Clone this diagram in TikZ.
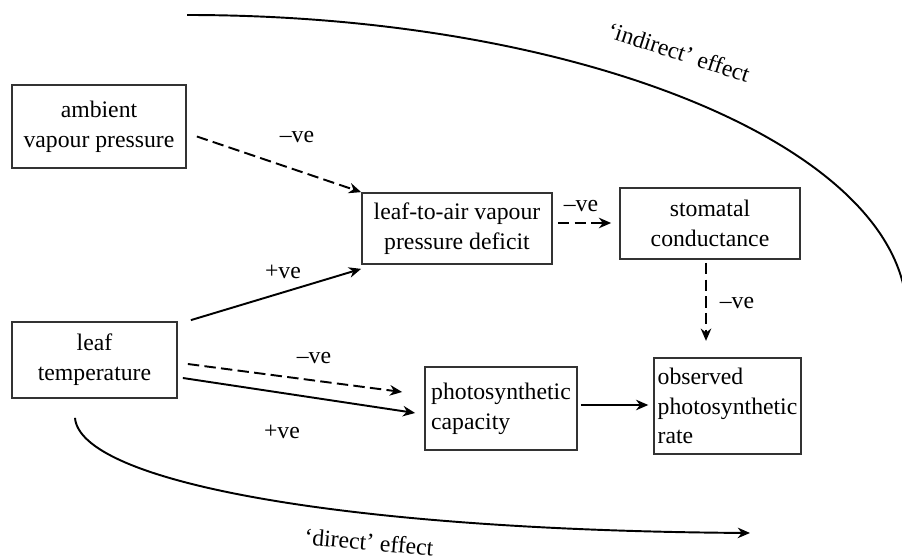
\documentclass[tikz,border=0pt]{standalone}
\usepackage{fontspec}
\setmainfont{Liberation Serif}
\usetikzlibrary{calc,arrows.meta}

\tikzset{
    box/.style={draw=black!80, line width=1pt, inner sep=2pt, font=\fontsize{13.5}{17}\selectfont},
    lbl/.style={inner sep=0pt, font=\fontsize{13.5}{17}\selectfont},
    effarrow/.style={->},
    negarrow/.style={->, dash pattern=on 6.5pt off 3pt},
}

\begin{document}
\begin{tikzpicture}[x=0.02cm, y=-0.02cm, line width=1.1pt, >={Stealth[length=7pt,width=6pt]}]
    \useasboundingbox (0,0) rectangle (902,560);
    \clip (0,0) rectangle (902,560);
    % boxes
    \node[box, minimum width=3.48cm, minimum height=1.66cm, align=center] (amb) at (99,126.5) {ambient\\vapour pressure};
    \node[box, minimum width=3.3cm, minimum height=1.52cm, align=center] (temp) at (94.5,360) {leaf\\temperature};
    \node[box, minimum width=3.8cm, minimum height=1.42cm, align=center] (vpd) at (457,228.5) {leaf-to-air vapour\\pressure deficit};
    \node[box, minimum width=3.6cm, minimum height=1.42cm, align=center] (stom) at (710,223.5) {stomatal\\conductance};
    \node[box, minimum width=3.04cm, minimum height=1.66cm, align=left] (cap) at (501,408.5) {photosynthetic\\capacity};
    \node[box, minimum width=2.9cm, minimum height=1.92cm, align=left] (obs) at (727.5,406) {observed\\photosynthetic\\rate};
    % arrows
    \draw[negarrow] ($(amb.east)+(10,10)$) -- (vpd.north west);
    \draw[effarrow] ($(temp.north east)+(13,-1)$) -- ($(vpd.south west)+(0,4)$);
    \draw[negarrow] ($(vpd.east)+(5,-5.5)$) -- ($(stom.west)+(-8,-0.5)$);
    \draw[negarrow] ($(stom.south)+(-4,3)$) -- ($(stom.south)+(-4,81)$);
    \draw[negarrow] ($(temp.east)+(10,4)$) -- ($(cap.west)+(-22,-16.5)$);
    \draw[effarrow] ($(temp.east)+(5,18)$) -- ($(cap.west)+(-9,4.5)$);
    \draw[effarrow] ($(cap.east)+(3,-3.5)$) -- ($(obs.west)+(-5,-1)$);
    % direct and indirect effect
    \coordinate (dirend) at (750,533);
    \coordinate (indstart) at (187,15);
    \draw[effarrow] ($(temp.south)+(-19.5,19)$) .. controls (80,480) and (330,530) .. (dirend);
    \draw (indstart) arc[start angle=90, end angle=0, x radius=14.4cm, y radius=6cm];
    % labels
    \node[lbl] (lamb) at (297,137) {--ve};
    \node[lbl] (ltempup) at (283,272) {+ve};
    \node[lbl] (lvpd) at (581,206) {--ve};
    \node[lbl] (lstom) at (737,303) {--ve};
    \node[lbl] (ltempneg) at (314,358) {--ve};
    \node[lbl] (ltemppos) at (282,432) {+ve};
    \node[lbl, rotate=-18] (lind) at (679,52) {`indirect' effect};
    \node[lbl, rotate=-5] (ldir) at (369,542) {`direct' effect};
\end{tikzpicture}
\end{document}
